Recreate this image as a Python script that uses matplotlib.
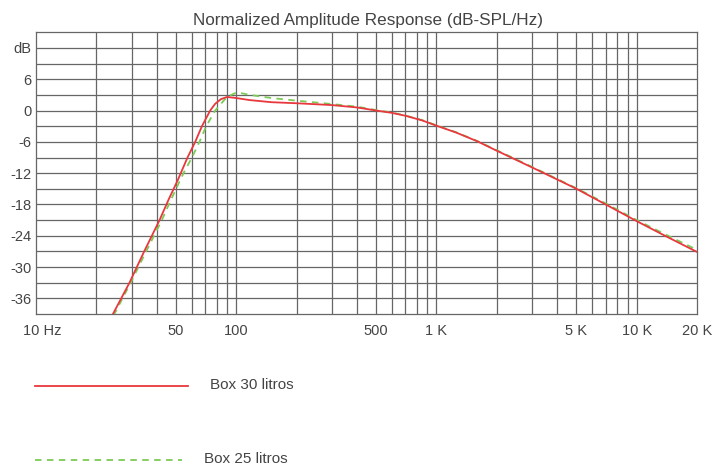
"""
Normalized amplitude response of two box volumes (30 l vs 25 l),
values read off a speaker-design screenshot.
"""

import matplotlib.pyplot as plt
from matplotlib.lines import Line2D
from matplotlib.transforms import ScaledTranslation

plt.rcParams['font.family'] = ['Liberation Sans', 'DejaVu Sans']

# Box 30 litros (red, solid)
freq_30 = [24, 29.3, 34.7, 41.4, 45.9, 51.1, 57.1, 62.4, 67.4, 74.1, 78.5, 84, 90,
           100, 117, 150, 200, 300, 400, 500, 600, 700, 850, 1000, 1250, 1600, 2000,
           3000, 4000, 5000, 7000, 10000, 14000, 20000]
db_30 = [-39.3, -33, -27, -21, -17.1, -13.3, -9, -6, -3, 0, 1.3, 2.2, 2.6,
         2.4, 2.0, 1.6, 1.4, 1.05, 0.6, 0.0, -0.45, -1.0, -1.9, -2.9, -4.2, -5.9, -7.7,
         -10.9, -13.2, -15.0, -18.0, -21.2, -24.1, -27.1]

# Box 25 litros (green, dashed)
freq_25 = [24.4, 29.7, 35.5, 42.5, 47.2, 50.1, 54.5, 60.1, 65.5, 70.8, 78.5, 90,
           101, 117, 150, 200, 300, 400, 500, 600, 700, 850, 1000, 1250, 1600, 2000,
           3000, 5000, 7000, 10000, 14000, 20000]
db_25 = [-39.3, -33, -27, -21, -17.1, -15, -12, -9, -6, -3, 0, 2.65,
         3.5, 3.0, 2.4, 1.9, 1.25, 0.75, 0.1, -0.4, -0.95, -1.85, -2.85, -4.15, -5.85, -7.6,
         -10.8, -14.9, -17.8, -21.0, -23.8, -26.7]

x_ticks = [10, 50, 100, 500, 1000, 5000, 10000, 20000]
x_labels = ['10 Hz', '50', '100', '500', '1 K', '5 K', '10 K', '20 K']
x_grid = [20, 30, 40, 50, 60, 70, 80, 90, 100, 200, 300, 400, 500, 600, 700, 800, 900,
          1000, 2000, 3000, 4000, 5000, 6000, 7000, 8000, 9000, 10000]
y_ticks = [12, 6, 0, -6, -12, -18, -24, -30, -36]
y_labels = ['dB', '6', '0', '-6', '-12', '-18', '-24', '-30', '-36']
y_grid = list(range(-36, 15, 3))

TEXT = '#444444'
GRID = '#666666'
RED = '#e8383d'
GREEN = '#7ccb56'

fig = plt.figure(figsize=(7.24, 4.66), dpi=100)
ax = fig.add_axes([36 / 724, 1 - 314 / 466, 661 / 724, (314 - 32.3) / 466])

ax.set_xscale('log')
ax.set_xlim(10, 20000)
ax.set_ylim(-39, 15)

for g in x_grid:
    ax.axvline(g, color=GRID, lw=0.9, zorder=1)
for g in y_grid:
    ax.axhline(g, color=GRID, lw=0.9, zorder=1)

ax.plot(freq_30, db_30, color=RED, lw=1.3, zorder=4)
ax.plot(freq_25, db_25, color=GREEN, lw=1.3, dashes=(3.6, 3.0), zorder=3)

ax.set_xticks(x_ticks)
ax.set_xticklabels(x_labels)
ax.xaxis.set_minor_locator(plt.NullLocator())
ax.set_yticks(y_ticks)
ax.set_yticklabels(y_labels)
ax.tick_params(length=0, labelsize=10.5, labelcolor=TEXT)
ax.tick_params(axis='x', pad=7)
ax.tick_params(axis='y', pad=3)
# nudge "10 Hz" a little right like the original
first = ax.get_xticklabels()[0]
first.set_transform(first.get_transform() + ScaledTranslation(6 / 100, 0, fig.dpi_scale_trans))

for s in ax.spines.values():
    s.set_color(GRID)
    s.set_linewidth(0.9)

fig.text(368 / 724, 1 - 20 / 466, 'Normalized Amplitude Response (dB-SPL/Hz)',
         ha='center', va='center', fontsize=12.3, color=TEXT)

# legend drawn below the plot
fig.add_artist(Line2D([35 / 724, 188 / 724], [1 - 385.5 / 466] * 2, color=RED, lw=1.3))
fig.text(210 / 724, 1 - 385 / 466, 'Box 30 litros', ha='left', va='center',
         fontsize=11, color=TEXT)
fig.add_artist(Line2D([35 / 724, 182 / 724], [1 - 460 / 466] * 2, color=GREEN, lw=1.3,
                      dashes=(3.6, 3.0)))
fig.text(204 / 724, 1 - 459 / 466, 'Box 25 litros', ha='left', va='center',
         fontsize=11, color=TEXT)

fig.savefig('out.png', dpi=100)
